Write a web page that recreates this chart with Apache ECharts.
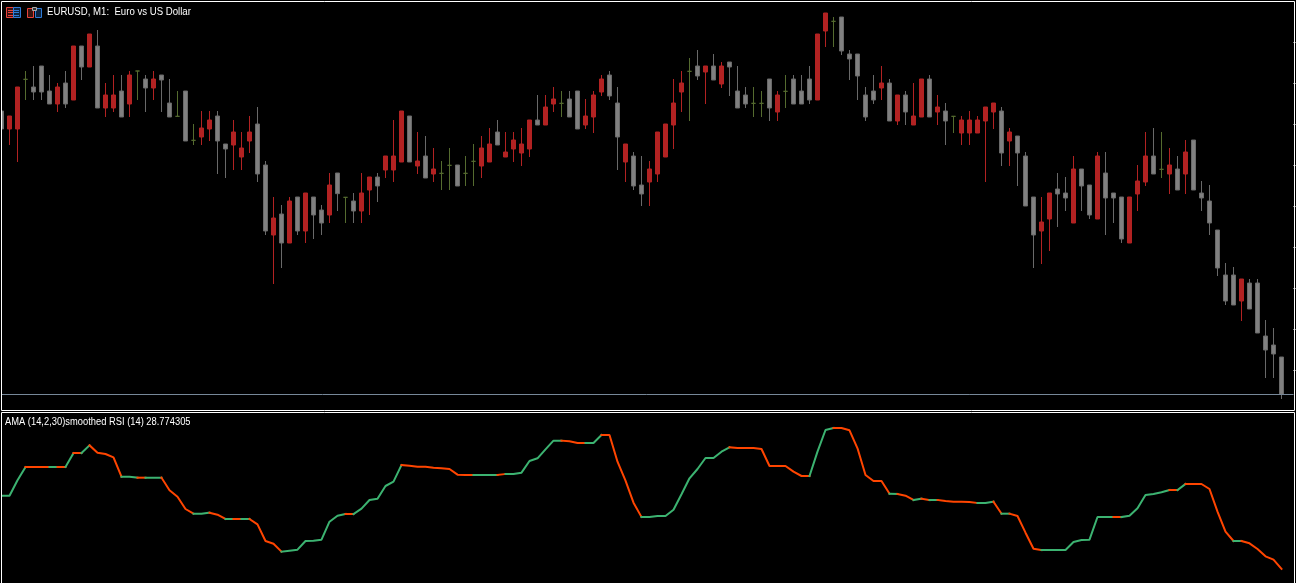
<!DOCTYPE html>
<html><head><meta charset="utf-8">
<style>html,body{margin:0;padding:0;background:#000;overflow:hidden}#c{width:1296px;height:583px}</style>
<script src="https://cdn.jsdelivr.net/npm/echarts@6/dist/echarts.min.js"></script>
</head><body><div id="c"></div>
<script>
// Prices are relative to the bid line, in fractions of a point.
const opens=[850,796,796,945,922,985,910,871,934,883,1045,982,1045,859,859,910,871,970,946,919,958,874,834,910,762,772,796,835,751,748,712,760,811,688,478,541,454,592,490,592,553,538,664,591,580,550,613,652,673,673,697,835,685,715,661,663,687,688,663,699,685,697,787,712,736,724,736,823,808,871,873,886,910,808,832,907,958,874,697,715,628,637,661,712,808,907,969,985,967,985,931,997,910,898,873,873,946,847,909,946,910,946,883,1090,1119,1132,1021,1021,898,910,919,934,820,898,808,832,946,847,850,834,784,784,784,820,847,850,760,775,715,592,490,526,616,604,514,676,628,526,664,604,592,454,601,637,715,675,661,676,661,763,604,580,493,358,358,280,334,334,175,148,112];
const closes=[796,835,922,945,907,907,871,922,871,1045,982,1081,859,898,898,832,958,970,919,946,943,832,834,760,762,799,823,760,736,787,739,787,661,490,529,454,580,490,604,538,514,628,602,591,550,604,652,625,715,715,850,697,700,649,676,663,687,625,663,699,739,751,748,727,763,751,823,808,862,886,873,832,796,835,898,946,895,772,751,625,601,676,787,811,874,934,969,955,985,943,985,982,859,871,873,873,859,898,909,871,871,883,1081,1144,1119,1030,1006,955,832,883,934,820,898,847,835,946,832,862,820,834,823,823,823,862,874,724,787,724,565,478,517,604,601,589,676,625,538,715,589,589,466,592,640,715,661,675,688,613,727,613,589,514,379,280,268,346,256,184,133,121,0];
const lows=[796,748,697,883,883,883,871,847,859,883,943,982,859,832,847,832,832,883,847,883,847,832,834,760,748,748,760,661,649,673,673,724,637,478,331,379,454,478,454,466,478,514,550,514,514,514,538,577,649,637,697,697,661,649,637,613,613,625,625,625,649,697,748,712,697,685,712,808,808,847,832,832,796,796,784,895,883,673,637,613,565,565,637,712,736,847,820,943,871,943,919,895,859,859,832,832,820,820,859,871,871,871,883,1042,1042,1018,943,883,820,871,883,820,808,808,808,832,832,808,748,784,748,748,784,637,796,685,685,625,565,379,391,430,502,550,514,550,526,526,478,514,454,454,550,625,661,649,601,613,601,613,550,478,355,268,268,220,256,184,49,49,-14];
const highs=[850,835,922,970,985,985,958,934,970,1045,1045,1081,1093,934,958,958,970,970,958,970,958,946,910,910,811,850,850,850,751,823,787,835,862,700,592,568,592,592,604,592,568,664,664,591,604,664,652,664,715,823,850,835,787,775,739,700,739,688,715,751,775,799,823,787,787,799,823,898,898,922,910,910,910,886,910,958,970,922,751,727,715,700,787,811,946,970,1009,1033,985,1021,997,997,985,922,922,910,946,910,958,958,958,985,1081,1144,1132,1132,1033,1021,922,958,985,946,898,910,934,946,958,898,874,834,835,850,835,862,874,862,799,775,727,592,592,604,664,652,715,676,628,727,727,604,592,592,688,787,799,787,739,715,763,763,640,628,493,394,382,346,346,346,223,199,112];
const bidPrice=0;
const priceTicks=[1055.5,932.5,809.5,686.5,563.5,440.5,317.5,194.5,71.5];
const rsi=[47.08,47.08,50.92,54.25,54.25,54.25,54.25,54.25,54.25,57.75,57.75,59.67,57.83,57.5,56.67,51.83,51.83,51.58,51.58,51.58,51.58,48.42,46.83,43.75,42.58,42.58,42.83,42.33,41.25,41.25,41.25,41.25,39.92,35.75,35.08,33.08,33.33,33.58,35.75,35.83,36.08,40.58,42.08,42.5,42.5,43.83,46,46.33,49.5,50.58,54.75,54.58,54.33,54.33,54.08,53.92,53.75,52.33,52.25,52.25,52.25,52.25,52.25,52.5,52.5,52.83,55.75,56.42,58.67,60.83,60.83,60.67,60.25,60.25,60.25,62.25,62.25,55.58,50.83,45.33,41.75,41.75,42,42,43.58,47.42,51.42,53.75,56.5,56.5,58.08,59.17,59,59,59,58.75,54.5,54.5,54.5,53.08,52,52,58.08,63.5,64,64,63.42,58.92,52.25,50.75,50.75,47.58,47.5,47.08,46,46.33,46,46,45.75,45.58,45.58,45.5,45.25,45.25,45.58,42.58,42.58,42,37.83,33.83,33.5,33.5,33.5,33.5,35.5,36,36.08,41.75,41.75,41.75,41.75,42.08,43.92,47.25,47.5,47.92,48.5,48.5,50,50,50,48.75,43.08,38.08,35.75,35.75,35.17,33.75,31.92,31.08,28.77];
// Bar ranges [from,to] where the RSI line is drawn green; everything else is orange-red.
const risingRuns=[[0,3],[6,7],[8,9],[10,11],[15,17],[18,20],[24,26],[28,29],[30,31],[35,43],[44,50],[59,62],[63,70],[73,75],[80,91],[101,104],[111,112],[114,115],[116,117],[122,124],[125,126],[130,139],[140,146],[147,148],[154,155]];
const chartTitle='EURUSD, M1:  Euro vs US Dollar';
const indicatorTitle='AMA (14,2,30)smoothed RSI (14) 28.774305';

const categories=Array.from({length:162},(_,i)=>String(i));
const candles=opens.map((o,i)=>[o,closes[i],lows[i],highs[i]]);

function runsAll(){
  const out=[];let p=0;
  risingRuns.forEach(r=>{
    if(r[0]>p) out.push({from:p,to:r[0],color:'#FF4500'});
    out.push({from:r[0],to:r[1],color:'#3CB371'});
    p=r[1];
  });
  if(p<rsi.length-1) out.push({from:p,to:rsi.length-1,color:'#FF4500'});
  return out;
}
const rsiSeries=runsAll().map(r=>({
  type:'line',xAxisIndex:1,yAxisIndex:1,showSymbol:false,silent:true,
  lineStyle:{color:r.color,width:2,cap:'square'},
  data:rsi.map((v,i)=>(i>=r.from&&i<=r.to)?v:null)
}));

const W='#ffffff';
function L(x1,y1,x2,y2,c){return {type:'line',z:20,silent:true,shape:{x1,y1,x2,y2},style:{stroke:c,lineWidth:1}};}
const frame=[
  {type:'rect',z:19,silent:true,shape:{x:0,y:0,width:1,height:583},style:{fill:'#000'}},
  {type:'rect',z:20,silent:true,shape:{x:1.5,y:1.5,width:1293,height:409},style:{stroke:W,fill:null,lineWidth:1}},
  {type:'rect',z:20,silent:true,shape:{x:1.5,y:412.5,width:1293,height:200},style:{stroke:W,fill:null,lineWidth:1}},
  {type:'text',z:20,silent:true,x:47,y:7,scaleX:0.917,style:{text:chartTitle,x:0,y:0,fill:W,font:'10.5px "Liberation Sans"',textBaseline:'top'}},
  {type:'text',z:20,silent:true,x:5,y:417,scaleX:0.935,style:{text:indicatorTitle,x:0,y:0,fill:W,font:'10px "Liberation Sans"',textBaseline:'top'}},
  // toolbar icons
  {type:'rect',z:20,silent:true,shape:{x:6.5,y:7.5,width:7,height:10},style:{stroke:'#E8433A',fill:'#3a1010',lineWidth:1}},
  {type:'rect',z:20,silent:true,shape:{x:13.5,y:7.5,width:7,height:10},style:{stroke:'#2E7BD6',fill:'#0c2440',lineWidth:1}},
  L(8,10.5,13,10.5,'#E8433A'),L(8,12.5,13,12.5,'#E8433A'),L(8,15.5,13,15.5,'#E8433A'),
  L(14,10.5,19,10.5,'#2E7BD6'),L(14,12.5,19,12.5,'#2E7BD6'),L(14,15.5,19,15.5,'#2E7BD6'),
  {type:'rect',z:20,silent:true,shape:{x:27.5,y:8.5,width:6,height:9},style:{stroke:'#E8433A',fill:'#3a1510',lineWidth:1}},
  {type:'rect',z:20,silent:true,shape:{x:35.5,y:8.5,width:6,height:9},style:{stroke:'#2E7BD6',fill:'#0c2440',lineWidth:1}},
  {type:'rect',z:20,silent:true,shape:{x:32.5,y:7.5,width:4,height:3},style:{stroke:'#aaaaaa',fill:'#333',lineWidth:1}}
];

const chart=echarts.init(document.getElementById('c'),null,{renderer:'canvas',width:1296,height:583});
chart.setOption({
  animation:false,backgroundColor:'#000',
  grid:[
    {left:-2.5,top:2,width:1296,height:408,outerBoundsMode:'none'},
    {left:-2.5,top:413,width:1296,height:169,outerBoundsMode:'none'}
  ],
  xAxis:[
    {type:'category',gridIndex:0,data:categories,show:false},
    {type:'category',gridIndex:1,data:categories,show:false}
  ],
  yAxis:[
    {type:'value',gridIndex:0,min:-47,max:1177,position:'right',scale:true,splitLine:{show:false},
     axisLine:{show:false},axisLabel:{show:false},
     axisTick:{show:true,length:2,customValues:priceTicks,lineStyle:{color:W}}},
    {type:'value',gridIndex:1,min:25.5,max:67.75,show:false,splitLine:{show:false}}
  ],
  series:[
    {type:'candlestick',xAxisIndex:0,yAxisIndex:0,barWidth:5,silent:true,clip:true,
     data:candles,
     itemStyle:{color:'#B22222',color0:'#808080',borderColor:'#B22222',borderColor0:'#696969',borderColorDoji:'#556B2F',borderWidth:1},
     markLine:{silent:true,symbol:'none',label:{show:false},animation:false,
       lineStyle:{color:'#778899',width:1,type:'solid'},data:[{yAxis:bidPrice}]}},
    ...rsiSeries
  ],
  graphic:frame
});
</script></body></html>
